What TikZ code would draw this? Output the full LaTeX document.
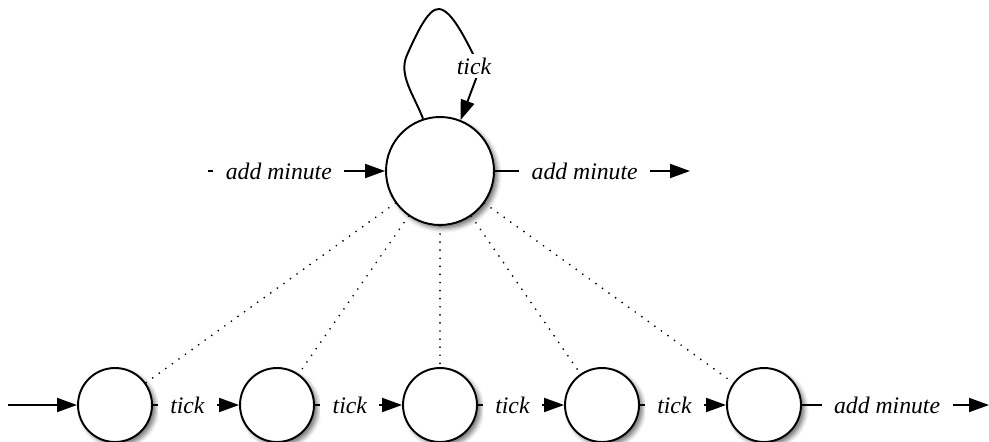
\documentclass[tikz,border=0pt]{standalone}
\usepackage{fontspec}
\setmainfont{Liberation Serif}
\usetikzlibrary{arrows.meta,shadows.blur}
\begin{document}
\begin{tikzpicture}[x=0.02cm,y=0.02cm,
  state/.style={circle,draw,line width=1.1pt,fill=white,inner sep=0pt,
    blur shadow={shadow xshift=2pt,shadow yshift=-2pt,shadow blur radius=2.5pt,shadow opacity=55}},
  bigstate/.style={state,minimum size=2.16cm},
  smallstate/.style={state,minimum size=1.48cm},
  trans/.style={line width=1.1pt,-{Triangle[length=0.4cm,width=0.28cm]}},
  lbl/.style={fill=white,inner xsep=0.25cm,inner ysep=2pt,font=\fontsize{13.5}{16}\selectfont\itshape},
  link/.style={line width=1.1pt,line cap=round,dash pattern=on 0pt off 4.6pt}]
\useasboundingbox (0,0) rectangle (989,-442);
% states
\node[bigstate] (top) at (440,-171) {};
\node[smallstate] (c1) at (115,-405) {};
\node[smallstate] (c2) at (277,-405) {};
\node[smallstate] (c3) at (440,-405) {};
\node[smallstate] (c4) at (602,-405) {};
\node[smallstate] (c5) at (764,-405) {};
% free ends
\coordinate (inB) at (8,-405);
\coordinate (inT) at (208,-171);
\coordinate (outT) at (690,-171);
\coordinate (outB) at (989,-405);
\coordinate (loopL) at (407,-55);
\coordinate (loopTop) at (439,-9);
\coordinate (loopBend) at (480,-68);
% dotted links
\foreach \c in {c1,c2,c3,c4,c5}
  \draw[link] (top) -- (\c);
% transitions
\draw[trans] (inB) -- (c1);
\draw[trans] (c1) -- node[lbl,pos=0.4] {tick} (c2);
\draw[trans] (c2) -- node[lbl,pos=0.4] {tick} (c3);
\draw[trans] (c3) -- node[lbl,pos=0.4] {tick} (c4);
\draw[trans] (c4) -- node[lbl,pos=0.4] {tick} (c5);
\draw[trans] (c5) -- node[lbl,pos=0.455] {add minute} (outB);
\draw[trans] (inT) -- node[lbl,pos=0.4] {add minute} (top);
\draw[trans] (top) -- node[lbl,pos=0.46] {add minute} (outT);
% self loop
\draw[trans] (top.108) .. controls (414,-95) and (398,-75) .. (loopL)
  .. controls (416,-35) and (428,-8) .. (loopTop)
  .. controls (452,-10) and (466,-40) .. (loopBend) -- (top.68);
\node[lbl,inner xsep=2pt] (looplabel) at (474,-66) {tick};
\end{tikzpicture}
\end{document}
